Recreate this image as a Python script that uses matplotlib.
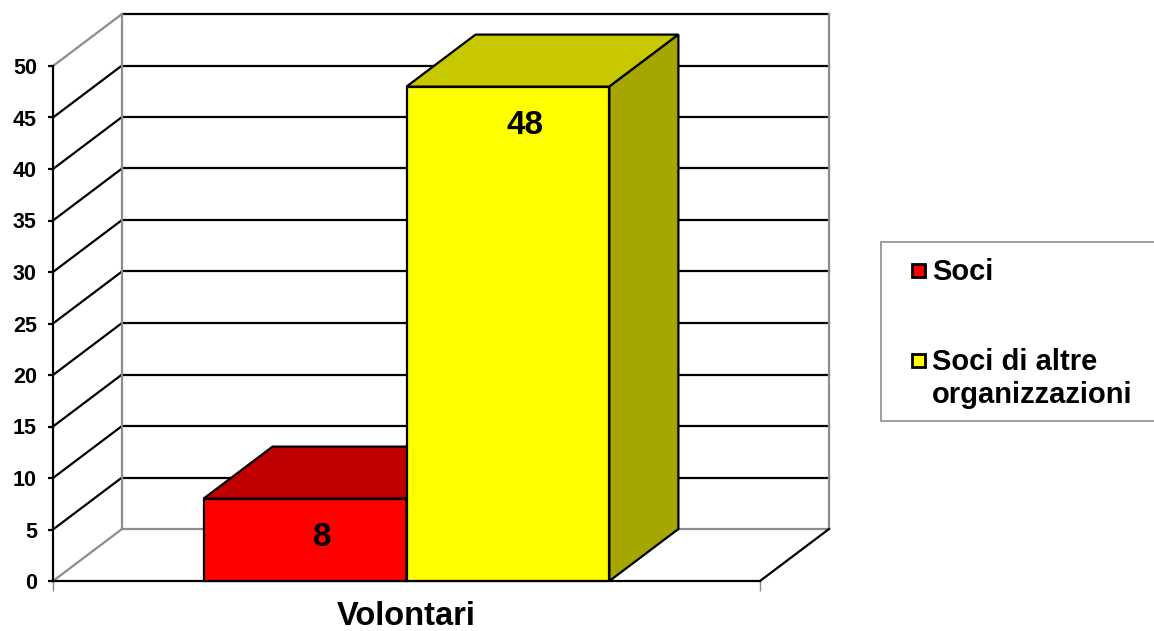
import matplotlib
matplotlib.use('Agg')
import matplotlib.pyplot as plt
from matplotlib.patches import Polygon, Rectangle

# dati del grafico
categoria = 'Volontari'
serie = ['Soci', 'Soci di altre\norganizzazioni']
valori = [8, 48]
yticks = list(range(0, 55, 5))

colori_fronte = ['#FF0000', '#FFFF00']
colori_sopra = ['#C00000', '#C8C800']
colori_lato = ['#A00000', '#A6A600']

plt.rcParams['font.family'] = ['Liberation Sans', 'DejaVu Sans']
plt.rcParams['font.weight'] = 'bold'

W, H = 1154, 631
fig = plt.figure(figsize=(W / 100, H / 100), dpi=100)
ax = fig.add_axes([53 / W, 50 / H, 707 / W, 515 / H])
ymax = 50
ax.set_xlim(0, 1)
ax.set_ylim(0, ymax)

# profondita' della prospettiva (unita' dati)
px = 69 / 707
py = 52 / 515 * ymax

grigio = '#8c8c8c'
lw = 1.6

# pareti: griglia sul fondo e sul lato sinistro
for v in yticks:
    c_fondo = grigio if v == 0 else 'black'
    ax.plot([px, 1 + px], [v + py, v + py], color=c_fondo, lw=lw, clip_on=False, zorder=1)
    c_lato = grigio if v in (0, ymax) else 'black'
    ax.plot([0, px], [v, v + py], color=c_lato, lw=lw, clip_on=False, zorder=1)
ax.plot([px, px], [py, ymax + py], color=grigio, lw=lw, clip_on=False, zorder=1)
ax.plot([1 + px, 1 + px], [py, ymax + py], color=grigio, lw=lw, clip_on=False, zorder=1)
# bordo destro del pavimento
ax.plot([1, 1 + px], [0, py], color='black', lw=lw, clip_on=False, zorder=1)

# barre 3D
larghezza = 0.287
x0 = 0.5 - larghezza
for i, v in enumerate(valori):
    a = x0 + i * larghezza
    b = a + larghezza
    z = 3 + i
    ax.add_patch(Rectangle((a, 0), larghezza, v, fc=colori_fronte[i], ec='black',
                           lw=lw, zorder=z, clip_on=False))
    ax.add_patch(Polygon([(a, v), (a + px, v + py), (b + px, v + py), (b, v)],
                         fc=colori_sopra[i], ec='black', lw=lw, zorder=z, clip_on=False))
    ax.add_patch(Polygon([(b, 0), (b + px, py), (b + px, v + py), (b, v)],
                         fc=colori_lato[i], ec='black', lw=lw, zorder=z, clip_on=False))
    ax.text(a + larghezza / 2 + px / 4, v - 4.6, str(v), ha='center', va='baseline',
            fontsize=24, fontweight='bold', zorder=10)

# assi
for s in ['top', 'right']:
    ax.spines[s].set_visible(False)
ax.spines['left'].set_linewidth(lw)
ax.spines['bottom'].set_linewidth(lw)
ax.spines['left'].set_zorder(2)
ax.spines['bottom'].set_zorder(2)
ax.set_yticks(yticks)
ax.tick_params(axis='y', length=3.6, width=lw, pad=8, labelsize=15.5)
ax.set_xticks([0, 1])
ax.set_xticklabels(['', ''])
ax.tick_params(axis='x', length=7, width=1, color=grigio)
ax.set_xlabel(categoria, fontsize=23.5, fontweight='bold', labelpad=4)
ax.set_facecolor('none')

# legenda
def fx(p):
    return p / W

def fy(p):
    return 1 - p / H

fig.add_artist(Rectangle((fx(881), fy(421)), 320 / W, 179 / H, transform=fig.transFigure,
                         fc='white', ec=grigio, lw=1.2))
basi = [280, 370]
for i, nome in enumerate(serie):
    yb = basi[i]
    fig.add_artist(Rectangle((fx(911.5), fy(yb - 3)), 13 / W, 13 / H, transform=fig.transFigure,
                             fc=colori_fronte[i], ec='black', lw=2))
    for k, riga in enumerate(nome.split('\n')):
        fig.text(fx(932), fy(yb + 33 * k), riga, fontsize=21, fontweight='bold',
                 ha='left', va='baseline')

fig.savefig('out.png', dpi=100)
